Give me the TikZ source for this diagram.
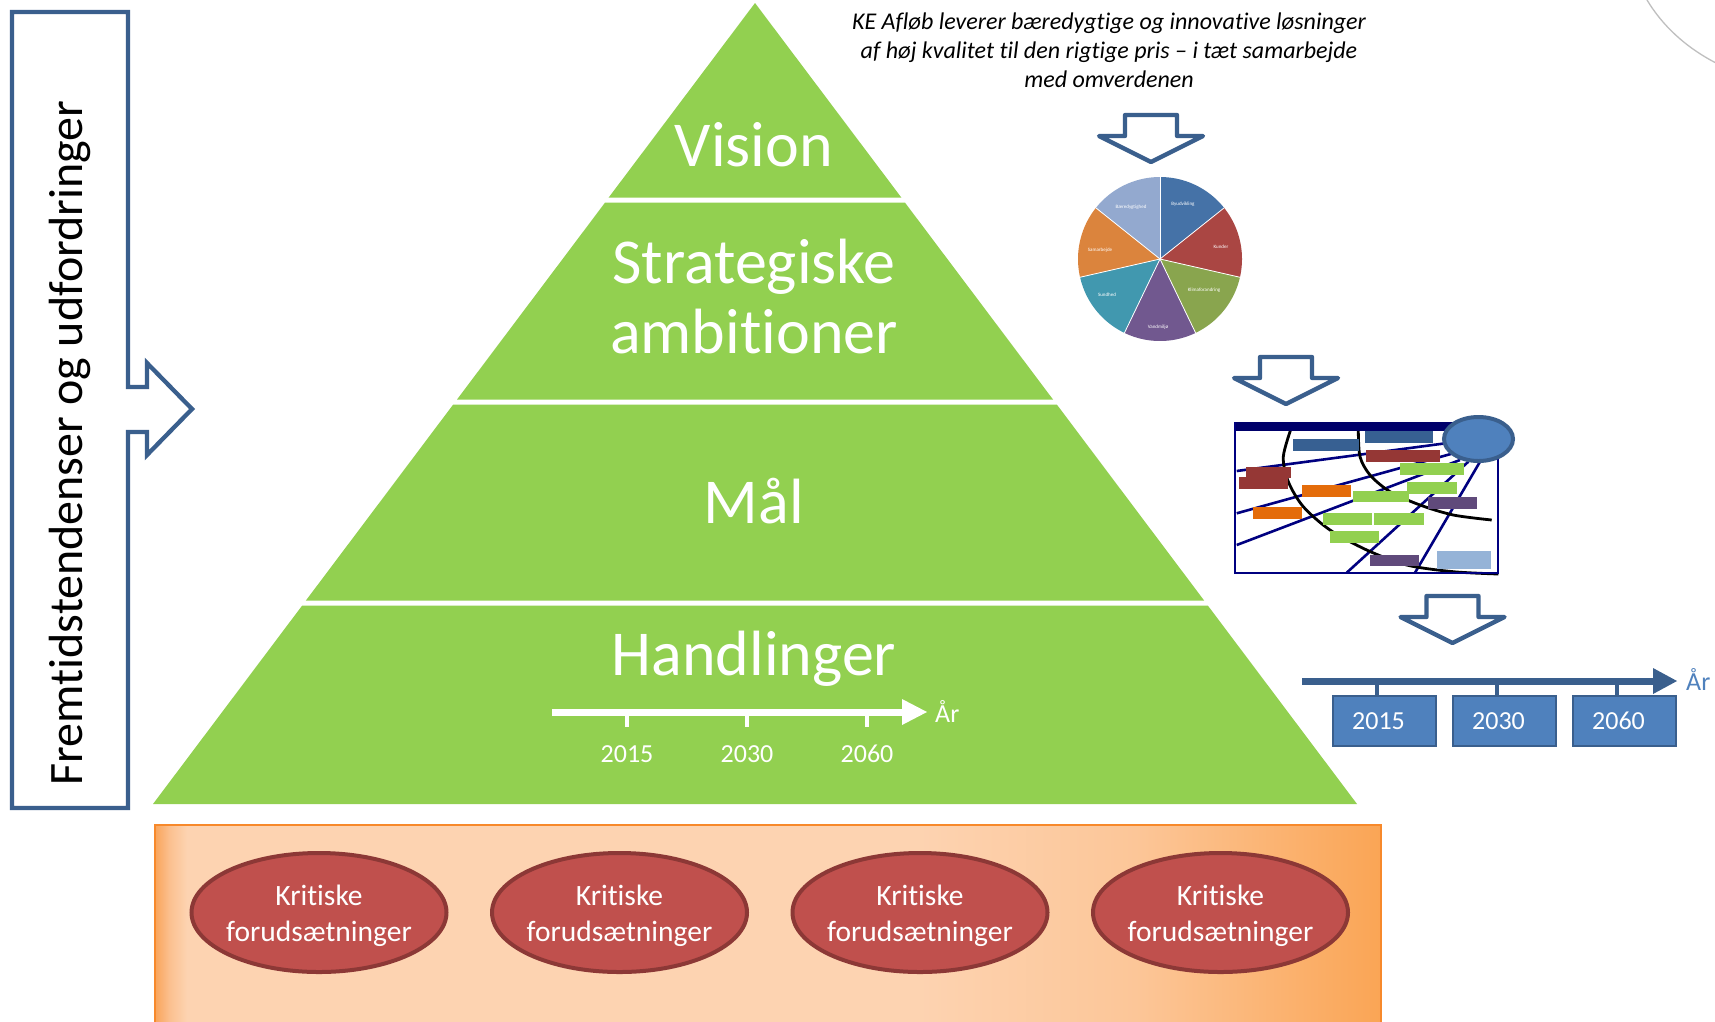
\documentclass[tikz,border=0pt]{standalone}
\usepackage{fontspec}
\setmainfont[Ligatures=NoCommon]{Carlito}
\usetikzlibrary{shapes.geometric}
\definecolor{pgreen}{HTML}{92D050}
\definecolor{oblue}{HTML}{3A5F8D}
\definecolor{fblue}{HTML}{4F81BD}
\definecolor{ered}{HTML}{C0504D}
\definecolor{eredd}{HTML}{8C3836}
\definecolor{oborder}{HTML}{F7892B}
\definecolor{oA}{HTML}{F9A45A}
\definecolor{oB}{HTML}{FBC08F}
\definecolor{oC}{HTML}{FDD3B1}
\definecolor{oD}{HTML}{FCC698}
\definecolor{oE}{HTML}{FAA555}
\definecolor{navyl}{HTML}{000080}
\definecolor{navyd}{HTML}{00006A}
\definecolor{pie1}{HTML}{4572A7}
\definecolor{pie2}{HTML}{AA4643}
\definecolor{pie3}{HTML}{89A54E}
\definecolor{pie4}{HTML}{71588F}
\definecolor{pie5}{HTML}{4198AF}
\definecolor{pie6}{HTML}{DB843D}
\definecolor{pie7}{HTML}{93A9CF}
\definecolor{gbl}{HTML}{376092}
\definecolor{grd}{HTML}{953735}
\definecolor{ggr}{HTML}{92D050}
\definecolor{gor}{HTML}{E46C0A}
\definecolor{gpu}{HTML}{604A7B}
\definecolor{glb}{HTML}{95B3D7}
\pgfdeclarehorizontalshading{orangeshade}{100bp}{color(0bp)=(oA); color(25bp)=(oA); color(25.6bp)=(oB); color(26.3bp)=(oC); color(56bp)=(oC); color(65bp)=(oD); color(75bp)=(oE); color(100bp)=(oE)}
\begin{document}
\begin{tikzpicture}[x=1pt,y=-1pt,
  arrowline/.style={draw=oblue, line width=4.3pt, line join=miter},
  blockarrow/.style={draw=oblue, line width=4.3pt, line join=round},
  ptext/.style={text=white, inner sep=0pt, font=\fontsize{64}{76}\selectfont},
  yeargreen/.style={text=white, inner sep=0pt, font=\fontsize{26}{31}\selectfont},
  kritisk/.style={ellipse, draw=eredd, line width=4pt, fill=ered, minimum width=255pt, minimum height=119pt, inner sep=0pt},
  kritext/.style={text=white, inner sep=0pt, align=center, font=\fontsize{29.5}{36}\selectfont},
  yearbox/.style={draw=oblue, line width=2pt, fill=fblue, text=white, minimum width=103pt, minimum height=50pt, inner sep=0pt, font=\fontsize{26}{31}\selectfont},
  pielabel/.style={text=white, inner sep=0pt, font=\fontsize{5}{6}\selectfont},
  downarrow/.pic={\draw[blockarrow] (-26,0) -- (26,0) -- (26,21) -- (52,21) -- (0,47) -- (-52,21) -- (-26,21) -- cycle;}
]
\useasboundingbox (0,0) rectangle (1715,1021);
\fill[white] (0,0) rectangle (1715,1021);

% faint arc in top right corner
\draw[black!25, line width=1.3pt] (1647,0) .. controls (1662,25) and (1685,47) .. (1716,63);

% left box with arrow
\draw[arrowline] (12,12) -- (128,12) -- (128,387) -- (147,387) -- (147,363) -- (192,409) -- (147,455) -- (147,432) -- (128,432) -- (128,808) -- (12,808) -- cycle;
\node[rotate=90, anchor=base, inner sep=0pt, font=\fontsize{48}{58}\selectfont] (trend) at (82,443) {Fremtidstendenser og udfordringer};

% pyramid bands
\fill[pgreen] (755,3) -- (901.3,197.5) -- (608.7,197.5) -- cycle;
\fill[pgreen] (605.1,202.5) -- (904.9,202.5) -- (1053,399.5) -- (457,399.5) -- cycle;
\fill[pgreen] (453.2,404.5) -- (1056.8,404.5) -- (1204.1,600.5) -- (305.9,600.5) -- cycle;
\fill[pgreen] (302.2,605.5) -- (1207.8,605.5) -- (1357,804) -- (153,804) -- cycle;

\node[ptext, anchor=base] (vision) at (754,166) {Vision};
\node[ptext, anchor=base] (strat1) at (754,283) {Strategiske};
\node[ptext, anchor=base] (strat2) at (754,353) {ambitioner};
\node[ptext, anchor=base] (maal) at (754,523) {Mål};
\node[ptext, anchor=base] (handl) at (754,675) {Handlinger};

% timeline inside pyramid
\coordinate (gstart) at (552,712);
\coordinate (gend) at (905,712);
\draw[white, line width=7pt] (gstart) -- (gend);
\fill[white] (902,699) -- (927,712) -- (902,725) -- cycle;
\foreach \x/\y in {627/2015,747/2030,867/2060}{
  \draw[white, line width=4pt] (\x,712) -- (\x,727);
  \node[yeargreen] (gy\y) at (\x,754) {\y};
}
\node[yeargreen, anchor=base west] (gar) at (935,722) {År};

% orange box with ellipses
\shade[shading=orangeshade] (155,825) rectangle (1381,1030);
\draw[oborder, line width=2.2pt] (155,1030) -- (155,825) -- (1381,825) -- (1381,1030);
\foreach \i/\x in {1/319,2/619.5,3/920,4/1220.5}{
  \node[kritisk] (k\i) at (\x,912.5) {};
  \node[kritext] (kt\i) at (\x,915.5) {Kritiske\\forudsætninger};
}

% vision statement
\node[inner sep=0pt, align=center, anchor=north, font=\itshape\fontsize{24}{29}\selectfont] (vistext) at (1109,12.5) {KE Afløb leverer bæredygtige og innovative løsninger\\af høj kvalitet til den rigtige pris – i tæt samarbejde\\med omverdenen};

% down arrows
\pic at (1151,115) {downarrow};
\pic at (1286,357) {downarrow};
\pic at (1452.5,596) {downarrow};

% pie chart
\foreach \a/\b/\c in {-90/-38.571/pie1, -38.571/12.857/pie2, 12.857/64.286/pie3, 64.286/115.714/pie4, 115.714/167.143/pie5, 167.143/218.571/pie6, 218.571/270/pie7}{
  \fill[\c] (1160,259) -- plot[domain=\a:\b, samples=30] ({1160+82*cos(\x)},{259+82*sin(\x)}) -- cycle;
}
\foreach \a in {-90,-38.571,12.857,64.286,115.714,167.143,218.571}{
  \draw[white, line width=0.8pt] (1160,259) -- ({1160+82*cos(\a)},{259+82*sin(\a)});
}
\node[pielabel] (pl1) at (1183,204) {Byudvikling};
\node[pielabel] (pl2) at (1221,247) {Kunder};
\node[pielabel] (pl3) at (1204,290) {Klimaforandring};
\node[pielabel] (pl4) at (1158,327) {Vandmiljø};
\node[pielabel] (pl5) at (1107,295) {Sundhed};
\node[pielabel] (pl6) at (1100,250) {Samarbejde};
\node[pielabel] (pl7) at (1131,207) {Bæredygtighed};

% roadmap chart
\begin{scope}[line width=2.6pt, navyl]
\draw (1236.7,471) -- (1450,442.7);
\draw (1236.7,513.3) -- (1453.3,453.3);
\draw (1236.7,545) -- (1460,460);
\draw (1346.7,572.7) -- (1468.3,461.7);
\draw (1415,572.7) -- (1480,461.7);
\end{scope}
\draw[black, line width=2.8pt] plot[smooth] coordinates {(1291.7,426.7) (1283.3,456.7) (1288.3,481.7) (1303.3,506.7) (1330,530) (1366.7,550) (1406.7,565) (1453.3,571.7) (1498.3,574)};
\draw[black, line width=2.8pt] plot[smooth] coordinates {(1358.3,430.7) (1360,456.7) (1370,475) (1390,491.7) (1420,505) (1453.3,515) (1491.7,520)};
\fill[gbl] (1293,439) rectangle (1359,451);
\fill[gbl] (1365,431) rectangle (1433,443);
\fill[grd] (1366,450) rectangle (1440,462);
\fill[ggr] (1400,463) rectangle (1464,475);
\fill[grd] (1246,467) rectangle (1291,478);
\fill[grd] (1239,477) rectangle (1288,489);
\fill[ggr] (1407,482) rectangle (1457,494);
\fill[gor] (1302,485) rectangle (1351,497);
\fill[ggr] (1353,491) rectangle (1409,502);
\fill[gpu] (1428,497) rectangle (1477,509);
\fill[gor] (1253,507) rectangle (1302,519);
\fill[ggr] (1323,513) rectangle (1372,525);
\fill[ggr] (1374,513) rectangle (1424,525);
\fill[ggr] (1330,531) rectangle (1379,543);
\fill[gpu] (1370,555) rectangle (1419,566);
\fill[glb] (1437,551) rectangle (1491,569);
\draw[navyl, line width=2.5pt] (1235,423) rectangle (1498,573);
\fill[navyd] (1236,422) rectangle (1453,431);
\draw[oblue, line width=4pt, fill=fblue] (1478.5,439) ellipse [x radius=34.5, y radius=22];

% right timeline
\coordinate (rstart) at (1302,681);
\coordinate (rend) at (1656,681);
\draw[oblue, line width=7pt] (rstart) -- (rend);
\fill[oblue] (1653,668) -- (1677,681) -- (1653,694) -- cycle;
\foreach \x in {1377,1497,1617}{
  \draw[oblue, line width=4pt] (\x,681) -- (\x,696);
}
\node[yearbox] (r2015) at (1384.5,721) {2015\kern12pt};
\node[yearbox] (r2030) at (1504.5,721) {2030\kern12pt};
\node[yearbox] (r2060) at (1624.5,721) {2060\kern12pt};
\node[anchor=base west, inner sep=0pt, text=fblue, font=\fontsize{26}{31}\selectfont] (rar) at (1686,690) {År};
\end{tikzpicture}
\end{document}
